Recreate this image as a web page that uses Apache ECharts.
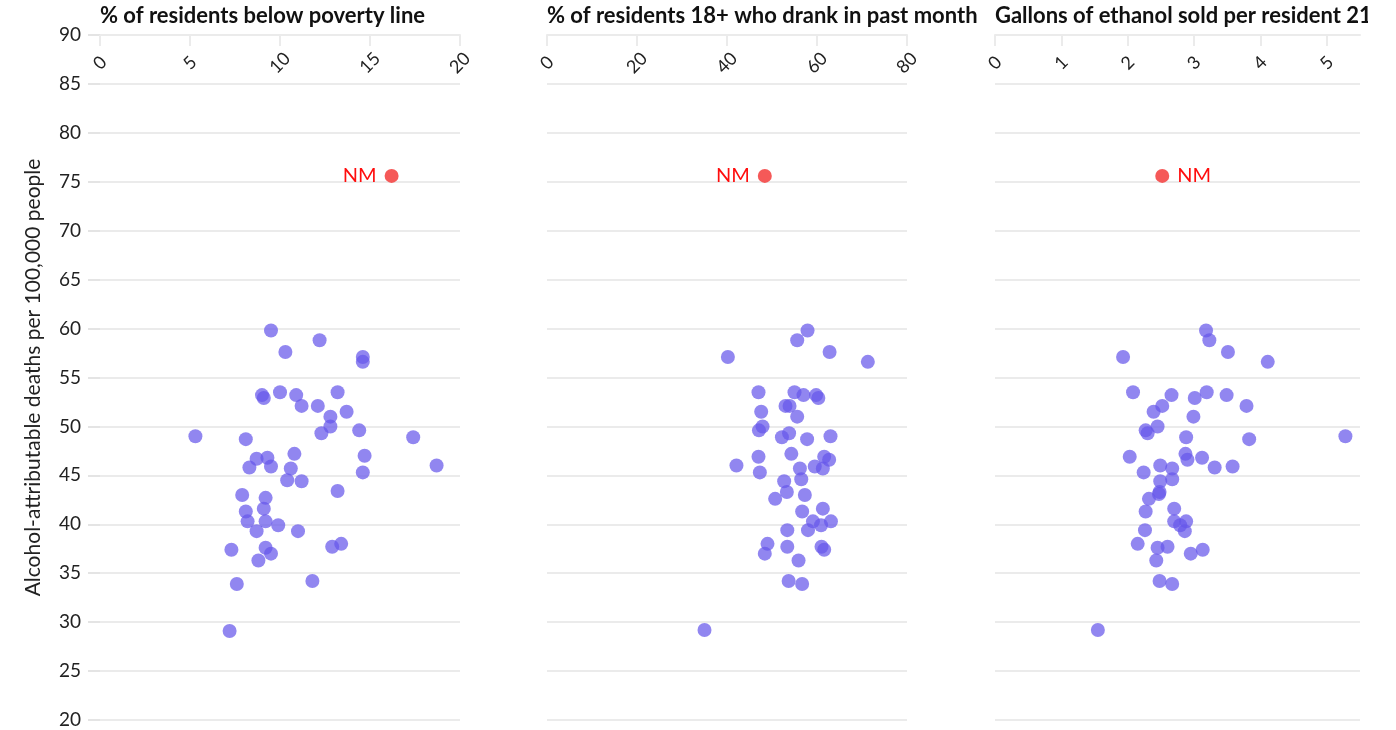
<!DOCTYPE html>
<html>
<head>
<meta charset="utf-8">
<script src="https://cdn.jsdelivr.net/npm/echarts@6/dist/echarts.min.js"></script>
<style>
  html, body { margin: 0; padding: 0; background: #fff; }
  #main { width: 1368px; height: 730px; }
</style>
</head>
<body>
<div id="main"></div>
<script>
// titles of the three panels
var panelTitles = [
    '% of residents below poverty line',
    '% of residents 18+ who drank in past month',
    'Gallons of ethanol sold per resident 21+'
];
var yTitle = 'Alcohol-attributable deaths per 100,000 people';

// x tick values per panel
var ticks1 = [0, 5, 10, 15, 20];
var ticks2 = [0, 20, 40, 60, 80];
var ticks3 = [0, 1, 2, 3, 4, 5];

// [x, deaths per 100k]
var poverty = [
    [9.5, 59.8], [12.2, 58.8], [10.3, 57.6], [14.6, 57.1], [14.6, 56.6], [9.0, 53.2], [9.1, 52.9],
    [10.0, 53.5], [10.9, 53.2], [13.2, 53.5], [11.2, 52.1], [12.1, 52.1], [13.7, 51.5], [12.8, 51.0],
    [12.8, 50.0], [12.3, 49.3], [14.4, 49.6], [5.3, 49.0], [8.1, 48.7], [17.4, 48.9], [10.8, 47.2],
    [8.7, 46.7], [9.3, 46.8], [8.3, 45.8], [9.5, 45.9], [14.7, 47.0], [18.7, 46.0], [10.6, 45.7],
    [14.6, 45.3], [10.4, 44.5], [11.2, 44.4], [13.2, 43.4], [7.9, 43.0], [9.2, 42.7], [8.1, 41.3],
    [9.1, 41.6], [8.2, 40.3], [9.2, 40.3], [9.9, 39.9], [8.7, 39.3], [11.0, 39.3], [7.3, 37.4],
    [9.2, 37.6], [9.5, 37.0], [8.8, 36.3], [12.9, 37.7], [13.4, 38.0], [7.6, 33.9], [11.8, 34.2],
    [7.2, 29.1]
];
var drank = [
    [57.9, 59.8], [55.6, 58.8], [62.8, 57.6], [40.2, 57.1], [71.3, 56.6], [47.0, 53.5], [55.0, 53.5],
    [57.0, 53.2], [59.8, 53.2], [60.3, 52.9], [53.0, 52.1], [53.9, 52.1], [47.6, 51.5], [55.6, 51.0],
    [47.9, 50.0], [47.1, 49.6], [53.8, 49.3], [52.2, 48.9], [57.8, 48.7], [63.0, 49.0], [54.3, 47.2],
    [47.0, 46.9], [61.6, 46.9], [62.7, 46.6], [42.1, 46.0], [56.2, 45.7], [59.5, 45.9], [61.3, 45.7],
    [47.3, 45.3], [52.7, 44.4], [56.5, 44.6], [53.3, 43.3], [50.7, 42.6], [57.3, 43.0], [56.7, 41.3],
    [61.3, 41.6], [59.1, 40.3], [60.9, 39.9], [63.1, 40.3], [53.4, 39.4], [58.0, 39.4], [49.0, 38.0],
    [48.4, 37.0], [53.4, 37.7], [61.0, 37.7], [61.6, 37.4], [55.9, 36.3], [53.7, 34.2], [56.7, 33.9],
    [35.0, 29.2]
];
var ethanol = [
    [3.18, 59.8], [3.23, 58.8], [3.51, 57.6], [1.93, 57.1], [4.11, 56.6], [2.08, 53.5], [2.66, 53.2],
    [3.01, 52.9], [3.19, 53.5], [3.49, 53.2], [2.52, 52.1], [3.79, 52.1], [2.39, 51.5], [2.99, 51.0],
    [2.45, 50.0], [2.27, 49.6], [2.30, 49.3], [2.88, 48.9], [3.83, 48.7], [5.28, 49.0], [2.03, 46.9],
    [2.87, 47.2], [2.90, 46.6], [3.12, 46.8], [2.49, 46.0], [2.67, 45.7], [3.31, 45.8], [3.58, 45.9],
    [2.24, 45.3], [2.49, 44.4], [2.67, 44.6], [2.48, 43.3], [2.47, 43.1], [2.32, 42.6], [2.27, 41.3],
    [2.70, 41.6], [2.70, 40.3], [2.79, 39.9], [2.88, 40.3], [2.86, 39.3], [2.26, 39.4], [2.15, 38.0],
    [2.45, 37.6], [2.60, 37.7], [2.43, 36.3], [2.95, 37.0], [3.13, 37.4], [2.48, 34.2], [2.67, 33.9],
    [1.55, 29.2]
];
// New Mexico, highlighted
var nmLabel = 'NM';
var nmPoverty = [16.2, 75.6];
var nmDrank = [48.4, 75.6];
var nmEthanol = [2.52, 75.6];

var font = 'Lato, "Noto Sans", sans-serif';
var gridColor = '#ebebeb';
var dotColor = '#6657ea';
var nmColor = '#f4504f';

var grids = [
    { left: 100, width: 360, top: 35, height: 685 },
    { left: 547, width: 360, top: 35, height: 685 },
    { left: 995, width: 365, top: 35, height: 685 }
];

function xAxisFor(i, max, ticks) {
    return {
        type: 'value',
        gridIndex: i,
        position: 'top',
        min: 0,
        max: max,
        splitLine: { show: false },
        axisLine: { show: true, lineStyle: { color: gridColor, width: 2 } },
        axisTick: { show: true, inside: true, length: 11, lineStyle: { color: gridColor, width: 2 }, customValues: ticks },
        axisLabel: {
            inside: true,
            rotate: -45,
            margin: 28,
            align: 'center',
            verticalAlign: 'middle',
            color: '#222',
            fontSize: 18,
            fontFamily: font,
            customValues: ticks
        }
    };
}

function yAxisFor(i, showLabels) {
    return {
        type: 'value',
        gridIndex: i,
        min: 20,
        max: 90,
        interval: 5,
        axisLine: { show: false },
        // small grey stubs only on the first panel
        axisTick: { show: showLabels, length: 12, lineStyle: { color: '#e4e4e4', width: 2 } },
        splitLine: { show: true, lineStyle: { color: gridColor, width: 2 } },
        axisLabel: { show: showLabels, color: '#222', fontSize: 19, fontFamily: font, margin: 19 },
        name: showLabels ? yTitle : '',
        nameLocation: 'middle',
        nameRotate: 90,
        nameGap: 56,
        nameTextStyle: { color: '#222', fontSize: 21, fontFamily: font }
    };
}

function dots(i, data) {
    return {
        type: 'scatter',
        xAxisIndex: i,
        yAxisIndex: i,
        symbolSize: 14,
        itemStyle: { color: dotColor, opacity: 0.72 },
        data: data
    };
}

function nmDot(i, point, side) {
    return {
        type: 'scatter',
        xAxisIndex: i,
        yAxisIndex: i,
        symbolSize: 14,
        itemStyle: { color: nmColor, opacity: 0.95 },
        label: {
            show: true,
            position: side,
            distance: 8,
            formatter: nmLabel,
            color: '#f00',
            fontSize: 20,
            fontFamily: font
        },
        data: [point]
    };
}

var myChart = echarts.init(document.getElementById('main'));
var option = {
    animation: false,
    title: panelTitles.map(function(t, i) {
        return {
            text: t,
            left: grids[i].left,
            top: 5,
            padding: 0,
            textStyle: { fontFamily: font, fontWeight: 'bold', fontSize: 22, color: '#111' }
        };
    }),
    grid: grids,
    xAxis: [xAxisFor(0, 20, ticks1), xAxisFor(1, 80, ticks2), xAxisFor(2, 5.5, ticks3)],
    yAxis: [yAxisFor(0, true), yAxisFor(1, false), yAxisFor(2, false)],
    series: [
        dots(0, poverty), nmDot(0, nmPoverty, 'left'),
        dots(1, drank), nmDot(1, nmDrank, 'left'),
        dots(2, ethanol), nmDot(2, nmEthanol, 'right')
    ]
};
myChart.setOption(option);
</script>
</body>
</html>
